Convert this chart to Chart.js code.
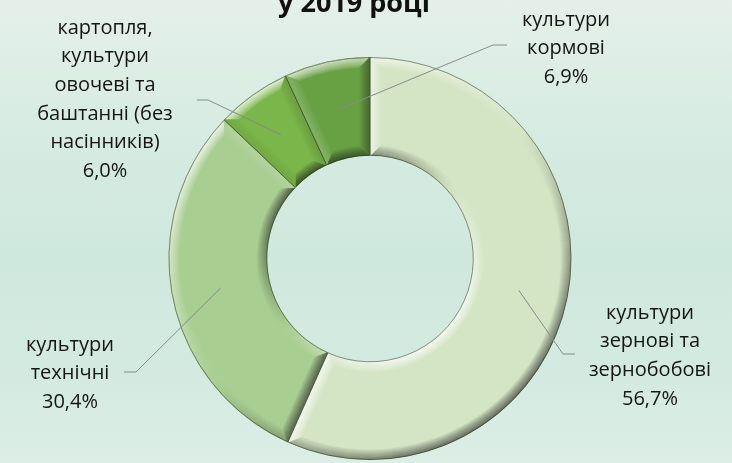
<!DOCTYPE html>
<html lang="uk">
<head>
<meta charset="utf-8">
<title>Структура посівних площ у 2019 році</title>
<script src="https://cdn.jsdelivr.net/npm/chart.js@4.4.1/dist/chart.umd.min.js"></script>
<style>
  html, body { margin: 0; padding: 0; }
  body {
    width: 732px; height: 463px; overflow: hidden;
    background: linear-gradient(to bottom, #e4f0e9 0%, #d6ebe1 30%, #cfe8dd 55%, #d3eae0 80%, #dceee6 100%);
  }
  #wrap { position: relative; width: 732px; height: 463px; }
</style>
</head>
<body>
<div id="wrap"><canvas id="chart" width="732" height="463"></canvas></div>
<script>
// Crop groups (multi-line labels) and their share of the sown area, %
const categories = [
  ['культури', 'зернові та', 'зернобобові'],
  ['культури', 'технічні'],
  ['картопля,', 'культури', 'овочеві та', 'баштанні (без', 'насінників)'],
  ['культури', 'кормові']
];
const shares = [56.7, 30.4, 6.0, 6.9];
const titleText = 'у 2019 році';

// Segment colours
const baseColors = ['#d4e5c5', '#a9ce92', '#7ab649', '#68a143'];

// Where each text block sits and where its leader line bends
const labelLayout = [
  { x: 650, y: 313, elbowX: 563, elbowY: 354, endX: 575 },
  { x: 70,  y: 345, elbowX: 136, elbowY: 372, endX: 124 },
  { x: 105, y: 28,  elbowX: 208, elbowY: 100, endX: 197 },
  { x: 566, y: 20,  elbowX: 493, elbowY: 45,  endX: 507 }
];
const LINE_H = 28.6;
const LABEL_FONT = '20px "Open Sans", "Noto Sans", sans-serif';
const CUTOUT = 0.51;

// Bevel settings: width in px and light direction (towards the upper left)
const BEVEL = 10;
const LIGHT = (() => { const x = -1, y = -1.25, l = Math.hypot(x, y); return [x / l, y / l]; })();

function hexToRgb(h) {
  const n = parseInt(h.slice(1), 16);
  return [(n >> 16) & 255, (n >> 8) & 255, n & 255];
}
// Shade a colour by a lighting term t in [-1, 1]
function lit(h, t) {
  const [r, g, b] = hexToRgb(h);
  const target = t > 0 ? 255 : 20;
  const p = t > 0 ? Math.min(1, t * 0.75) : Math.min(1, -t * 0.58);
  const m = c => Math.round(c + (target - c) * p);
  return `rgb(${m(r)},${m(g)},${m(b)})`;
}
// Bevel profile: strongest at the edge, fading towards the flat top
function profile(k) {
  const s = 1 - k / BEVEL;
  return Math.pow(s, 0.9);
}
function lightDot(nx, ny) { return nx * LIGHT[0] + ny * LIGHT[1]; }

const bevelPlugin = {
  id: 'bevel',
  afterDatasetsDraw(chart) {
    const c = chart.ctx;
    const meta = chart.getDatasetMeta(0);
    c.save();
    c.lineWidth = 1.6;
    c.lineCap = 'butt';
    meta.data.forEach((arc, i) => {
      const { x, y, startAngle: a0, endAngle: a1, innerRadius: rin, outerRadius: rout } =
        arc.getProps(['x', 'y', 'startAngle', 'endAngle', 'innerRadius', 'outerRadius'], true);
      const base = baseColors[i];
      // clip to the segment so strokes stay inside it
      c.save();
      c.beginPath();
      c.arc(x, y, rout, a0, a1);
      c.arc(x, y, rin, a1, a0, true);
      c.closePath();
      c.clip();

      for (let k = BEVEL - 1; k >= 0; k--) {
        const s = profile(k);
        const off = k + 0.8;

        // outer rim: normal points away from the centre
        const ro = rout - off;
        const go = c.createConicGradient(0, x, y);
        for (let j = 0; j <= 36; j++) {
          const th = j / 36 * Math.PI * 2;
          go.addColorStop(j / 36, lit(base, lightDot(Math.cos(th), Math.sin(th)) * s));
        }
        const dO = Math.asin(Math.min(1, off / ro));
        c.strokeStyle = go;
        c.beginPath();
        c.arc(x, y, ro, a0 + dO, a1 - dO);
        c.stroke();

        // inner rim: normal points towards the centre
        const ri = rin + off;
        const gi = c.createConicGradient(0, x, y);
        for (let j = 0; j <= 36; j++) {
          const th = j / 36 * Math.PI * 2;
          gi.addColorStop(j / 36, lit(base, lightDot(-Math.cos(th), -Math.sin(th)) * s));
        }
        const dI = Math.asin(Math.min(1, off / ri));
        c.strokeStyle = gi;
        c.beginPath();
        c.arc(x, y, ri, a0 + dI, a1 - dI);
        c.stroke();

        // straight edges
        [[a0, 1], [a1, -1]].forEach(([a, sign]) => {
          const ux = Math.cos(a), uy = Math.sin(a);
          const px = -Math.sin(a) * sign, py = Math.cos(a) * sign; // into the segment
          const r1 = Math.sqrt(Math.max(0, (rin + off) ** 2 - off ** 2));
          const r2 = Math.sqrt(Math.max(0, (rout - off) ** 2 - off ** 2));
          c.strokeStyle = lit(base, lightDot(-px, -py) * s);
          c.beginPath();
          c.moveTo(x + ux * r1 + px * off, y + uy * r1 + py * off);
          c.lineTo(x + ux * r2 + px * off, y + uy * r2 + py * off);
          c.stroke();
        });
      }
      c.restore();

      // thin dark outline around the segment
      c.strokeStyle = 'rgba(45,60,35,0.55)';
      c.lineWidth = 1;
      c.beginPath();
      c.arc(x, y, rout - 0.5, a0, a1);
      c.arc(x, y, rin + 0.5, a1, a0, true);
      c.closePath();
      c.stroke();
      c.lineWidth = 1.6;
    });
    c.restore();
  }
};

const titlePlugin = {
  id: 'topTitle',
  afterDraw(chart) {
    const c = chart.ctx;
    c.save();
    c.font = 'bold 27px "Open Sans", "Noto Sans", sans-serif';
    c.fillStyle = '#111111';
    c.textAlign = 'center';
    c.textBaseline = 'alphabetic';
    c.fillText(titleText, 354, 12);
    c.restore();
  }
};

const labelPlugin = {
  id: 'leaderLabels',
  afterDatasetsDraw(chart) {
    const c = chart.ctx;
    const meta = chart.getDatasetMeta(0);
    c.save();
    meta.data.forEach((arc, i) => {
      const L = labelLayout[i];
      const p = arc.getCenterPoint();
      c.strokeStyle = '#8a8a8a';
      c.lineWidth = 1;
      c.beginPath();
      c.moveTo(p.x, p.y);
      c.lineTo(L.elbowX, L.elbowY);
      c.lineTo(L.endX, L.elbowY);
      c.stroke();

      const lines = categories[i].concat([shares[i].toFixed(1).replace('.', ',') + '%']);
      c.font = LABEL_FONT;
      c.fillStyle = '#151515';
      c.textAlign = 'center';
      c.textBaseline = 'middle';
      lines.forEach((t, k) => c.fillText(t, L.x, L.y + k * LINE_H));
    });
    c.restore();
  }
};

new Chart(document.getElementById('chart'), {
  type: 'doughnut',
  data: {
    labels: categories.map(l => l.join(' ')),
    datasets: [{
      data: shares,
      backgroundColor: baseColors,
      borderWidth: 0
    }]
  },
  options: {
    responsive: false,
    animation: false,
    cutout: CUTOUT * 100 + '%',
    rotation: 0,
    layout: { padding: { top: 57, bottom: 3, left: 8, right: 0 } },
    events: [],
    plugins: {
      legend: { display: false },
      tooltip: { enabled: false },
      title: { display: false }
    }
  },
  plugins: [bevelPlugin, labelPlugin, titlePlugin]
});
</script>
</body>
</html>
